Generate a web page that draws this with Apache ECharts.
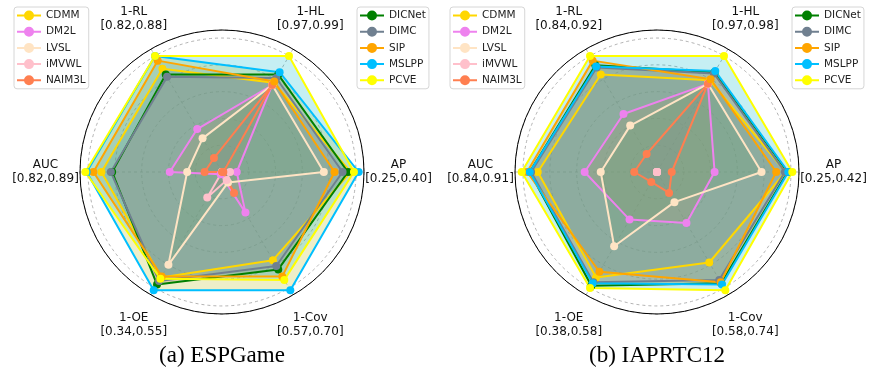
<!DOCTYPE html>
<html>
<head>
<meta charset="utf-8">
<script src="https://cdn.jsdelivr.net/npm/echarts@6/dist/echarts.min.js"></script>
<style>
  html, body { margin: 0; padding: 0; background: #fff; }
  #chart { width: 870px; height: 377px; }
</style>
</head>
<body>
<div id="chart"></div>
<script>
// axes go counter-clockwise from the upper right one (60deg)
const axisNames = ['1-HL', '1-RL', 'AUC', '1-OE', '1-Cov', 'AP'];
const espRanges = ['[0.97,0.99]', '[0.82,0.88]', '[0.82,0.89]', '[0.34,0.55]', '[0.57,0.70]', '[0.25,0.40]'];
const iapRanges = ['[0.97,0.98]', '[0.84,0.92]', '[0.84,0.91]', '[0.38,0.58]', '[0.58,0.74]', '[0.25,0.42]'];

const methods = ['CDMM', 'DM2L', 'LVSL', 'iMVWL', 'NAIM3L', 'DICNet', 'DIMC', 'SIP', 'MSLPP', 'PCVE'];
const lineColors = ['#FFD700', '#EE82EE', '#FFE4C4', '#FFC0CB', '#FF7F50', '#008000', '#708090', '#FFA500', '#00BFFF', '#FFFF00'];
// fills follow the default matplotlib cycle
const fillColors = ['#1f77b4', '#ff7f0e', '#2ca02c', '#d62728', '#9467bd', '#8c564b', '#e377c2', '#7f7f7f', '#bcbd22', '#17becf'];

// normalised scores, 1.0 = outer dashed ring
const espCDMM = [0.77, 0.89, 0.90, 0.91, 0.76, 0.96];
const espDM2L = [0.75, 0.37, 0.39, 0.02, 0.35, 0.11];
const espLVSL = [0.75, 0.29, 0.26, 0.80, 0.09, 0.76];
const espIMVWL = [0.00, 0.00, 0.00, 0.22, 0.07, 0.06];
const espNAIM3L = [0.75, 0.12, 0.13, 0.00, 0.18, 0.01];
const espDICNet = [0.84, 0.84, 0.82, 0.97, 0.84, 0.94];
const espDIMC = [0.81, 0.82, 0.83, 0.94, 0.81, 0.90];
const espSIP = [0.78, 0.96, 0.96, 0.90, 0.90, 0.84];
const espMSLPP = [0.86, 1.00, 1.01, 1.02, 1.02, 1.02];
const espPCVE = [1.00, 1.00, 1.02, 0.92, 0.93, 0.985];

const iapCDMM = [0.79, 0.84, 0.89, 0.91, 0.78, 0.96];
const iapDM2L = [0.76, 0.50, 0.54, 0.41, 0.44, 0.43];
const iapLVSL = [0.76, 0.40, 0.42, 0.64, 0.26, 0.78];
const iapIMVWL = [0.00, 0.00, 0.00, 0.00, 0.00, 0.00];
const iapNAIM3L = [0.76, 0.155, 0.17, 0.086, 0.18, 0.11];
const iapDICNet = [0.86, 0.92, 0.95, 0.98, 0.96, 0.975];
const iapDIMC = [0.85, 0.90, 0.94, 0.95, 0.93, 0.955];
const iapSIP = [0.80, 0.96, 0.97, 0.86, 0.95, 0.89];
const iapMSLPP = [0.87, 0.91, 0.95, 0.96, 0.97, 0.98];
const iapPCVE = [1.00, 1.00, 1.01, 1.00, 1.02, 1.01];

const espValues = [espCDMM, espDM2L, espLVSL, espIMVWL, espNAIM3L, espDICNet, espDIMC, espSIP, espMSLPP, espPCVE];
const iapValues = [iapCDMM, iapDM2L, iapLVSL, iapIMVWL, iapNAIM3L, iapDICNet, iapDIMC, iapSIP, iapMSLPP, iapPCVE];

const R_MAX = 1.06;
const RADIUS = 142;
const panels = [
  { cx: 222, cy: 172, ranges: espRanges, values: espValues, caption: '(a) ESPGame', legendLeft: [14, 357] },
  { cx: 657, cy: 172, ranges: iapRanges, values: iapValues, caption: '(b) IAPRTC12', legendLeft: [450, 792] }
];

const chart = echarts.init(document.getElementById('chart'), null, { renderer: 'canvas' });

const gridLine = { color: '#a0a0a0', type: [3, 3], width: 0.8 };
const legendIcon = 'path://M0,4L24,4L24,6L0,6Z M17,5A5,5,0,1,1,7,5A5,5,0,1,1,17,5Z';

const polar = [];
const angleAxis = [];
const radiusAxis = [];
const radar = [];
const series = [];
const legend = [];
const graphic = [];

panels.forEach((p, pi) => {
  polar.push({ center: [p.cx, p.cy], radius: RADIUS });
  angleAxis.push({
    polarIndex: pi,
    type: 'value',
    min: 0,
    max: 360,
    interval: 60,
    startAngle: 0,
    axisLine: { lineStyle: { color: '#000', width: 1 } },
    axisTick: { show: false },
    axisLabel: { show: false },
    splitLine: { lineStyle: gridLine }
  });
  radiusAxis.push({
    polarIndex: pi,
    min: 0,
    max: R_MAX,
    interval: 0.2,
    axisLine: { show: false },
    axisTick: { show: false },
    axisLabel: { show: false },
    splitLine: { lineStyle: gridLine }
  });
  radar.push({
    center: [p.cx, p.cy],
    radius: RADIUS,
    startAngle: 60,
    shape: 'circle',
    indicator: axisNames.map(n => ({ name: n, min: 0, max: R_MAX })),
    axisName: { show: false },
    axisLine: { show: false },
    axisTick: { show: false },
    axisLabel: { show: false },
    splitLine: { show: false },
    splitArea: { show: false }
  });

  // lines and markers sit above every fill
  series.push({
    type: 'radar',
    radarIndex: pi,
    z: 4,
    symbol: 'circle',
    symbolSize: 8,
    silent: true,
    data: methods.map((m, i) => ({
      name: m,
      value: p.values[i],
      lineStyle: { color: lineColors[i], width: 2 },
      itemStyle: { color: lineColors[i] }
    }))
  });
  series.push({
    type: 'radar',
    radarIndex: pi,
    z: 3,
    symbol: 'none',
    silent: true,
    data: methods.map((m, i) => ({
      name: m,
      value: p.values[i],
      lineStyle: { width: 0, opacity: 0 },
      areaStyle: { color: fillColors[i], opacity: 0.25 }
    }))
  });

  [methods.slice(0, 5), methods.slice(5)].forEach((names, gi) => {
    legend.push({
      data: names.map(n => ({
        name: n,
        icon: legendIcon,
        itemStyle: { color: lineColors[methods.indexOf(n)] }
      })),
      orient: 'vertical',
      left: p.legendLeft[gi],
      top: 7,
      itemWidth: 24,
      itemHeight: 10,
      itemGap: 5.2,
      padding: [3, 3, 3, 3],
      backgroundColor: '#fff',
      borderColor: '#d6d6d6',
      borderWidth: 1,
      borderRadius: 3,
      selectedMode: false,
      textStyle: { fontFamily: 'DejaVu Sans', fontSize: 10.5, color: '#222' }
    });
  });

  axisNames.forEach((n, k) => {
    const a = (60 + 60 * k) * Math.PI / 180;
    graphic.push({
      type: 'text',
      x: p.cx + 176.5 * Math.cos(a),
      y: p.cy - 176.5 * Math.sin(a),
      style: {
        text: n + '\n' + p.ranges[k],
        align: 'center',
        verticalAlign: 'middle',
        lineHeight: 14,
        font: '12px "DejaVu Sans"',
        fill: '#111'
      }
    });
  });

  graphic.push({
    type: 'text',
    x: p.cx,
    y: 356,
    style: {
      text: p.caption,
      align: 'center',
      verticalAlign: 'middle',
      font: '23px "Liberation Serif"',
      fill: '#000'
    }
  });
});

chart.setOption({
  animation: false,
  backgroundColor: '#fff',
  polar,
  angleAxis,
  radiusAxis,
  radar,
  legend,
  series,
  graphic
});
</script>
</body>
</html>
